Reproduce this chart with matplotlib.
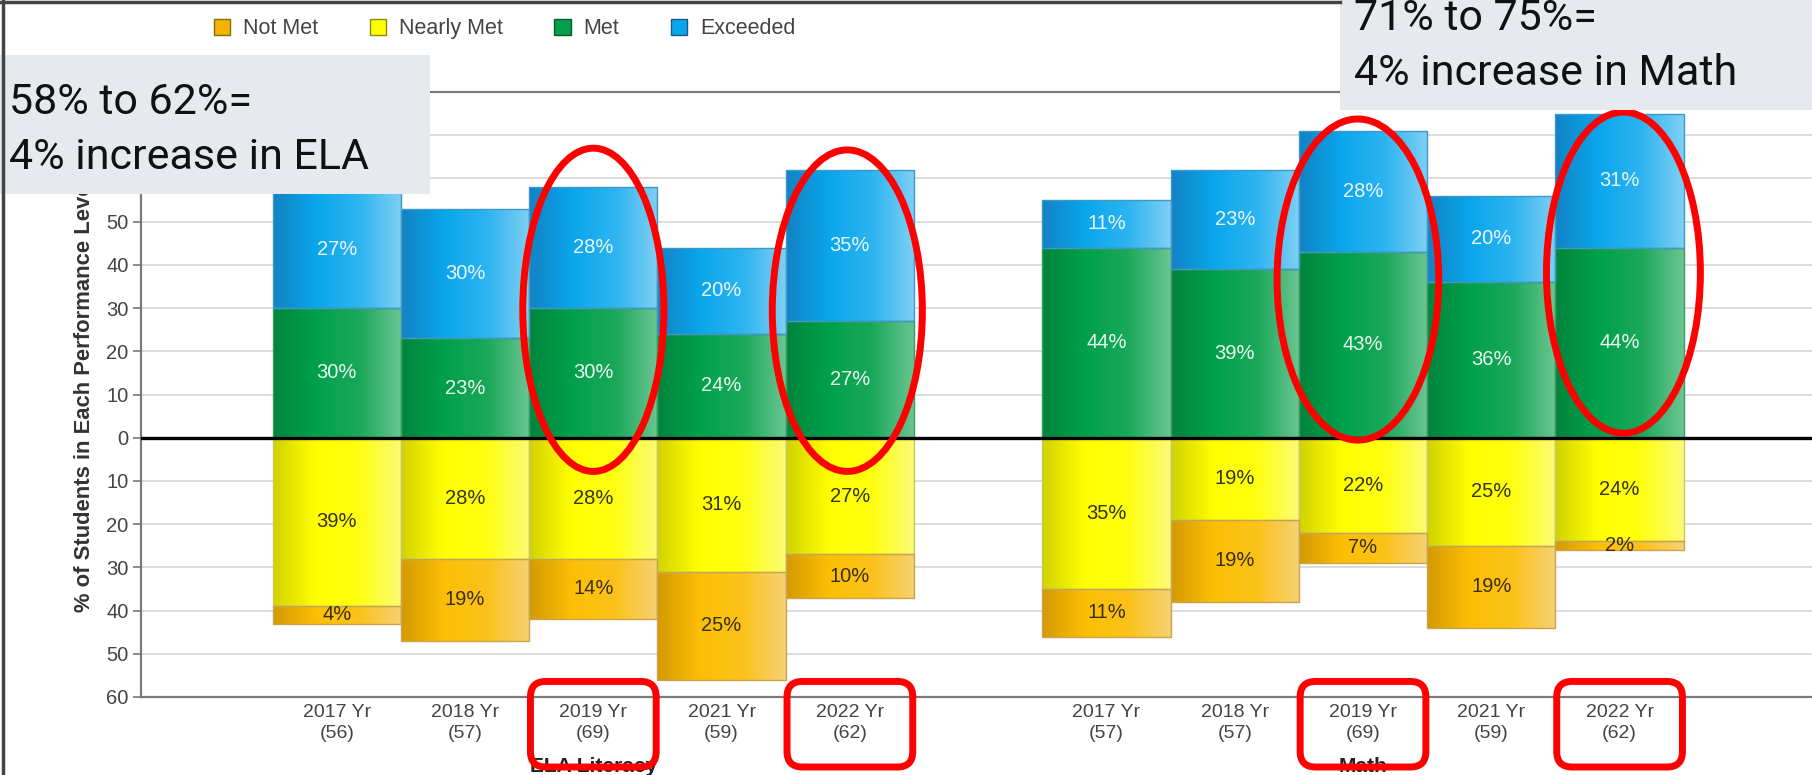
import numpy as np
import matplotlib
matplotlib.use("Agg")
import matplotlib.pyplot as plt
from matplotlib.colors import LinearSegmentedColormap
from matplotlib.patches import Patch, Ellipse, FancyBboxPatch, Rectangle
from matplotlib.lines import Line2D
import matplotlib.transforms as mtransforms

# ---- data ----
years = ["2017", "2018", "2019", "2021", "2022"]
ela_n = [56, 57, 69, 59, 62]
math_n = [57, 57, 69, 59, 62]

ela_exceeded = [27, 30, 28, 20, 35]
ela_met = [30, 23, 30, 24, 27]
ela_nearly = [39, 28, 28, 31, 27]
ela_notmet = [4, 19, 14, 25, 10]

math_exceeded = [11, 23, 28, 20, 31]
math_met = [44, 39, 43, 36, 44]
math_nearly = [35, 19, 22, 25, 24]
math_notmet = [11, 19, 7, 19, 2]

subjects = ["ELA Literacy", "Math"]
notes = ["58% to 62%=\n4% increase in ELA", "71% to 75%=\n4% increase in Math"]

plt.rcParams['font.family'] = ['Liberation Sans', 'DejaVu Sans']

fig = plt.figure(figsize=(18.12, 7.75), dpi=100)
ax = fig.add_axes([141 / 1812, 1 - 697 / 775, 1 - 141 / 1812, (697 - 92) / 775])

x_ela = np.arange(5)
x_math = np.arange(5) + 6
xs = np.concatenate([x_ela, x_math])
exceeded = np.array(ela_exceeded + math_exceeded)
met = np.array(ela_met + math_met)
nearly = np.array(ela_nearly + math_nearly)
notmet = np.array(ela_notmet + math_notmet)

# gradient colours: dark left edge, bright middle, pale right edge
cm_blue = LinearSegmentedColormap.from_list("b", ["#1282c4", "#0aa6ec", "#2db4f0", "#7fd0f4"])
cm_green = LinearSegmentedColormap.from_list("g", ["#00853c", "#00a04c", "#1aa85a", "#6cc592"])
cm_yellow = LinearSegmentedColormap.from_list("y", ["#d2d200", "#ffff00", "#ffff10", "#fbfb78"])
cm_orange = LinearSegmentedColormap.from_list("o", ["#d39a00", "#fdbf05", "#fcc21a", "#f6d274"])


def shade(bars, cmap, edge):
    grad = np.linspace(0, 1, 256).reshape(1, -1)
    for p in bars:
        x0, y0, w, h = p.get_x(), p.get_y(), p.get_width(), p.get_height()
        im = ax.imshow(grad, cmap=cmap, extent=[x0, x0 + w, y0, y0 + h], aspect='auto',
                       interpolation='bicubic', zorder=2.1)
        im.set_clip_path(p)
        ax.add_patch(Rectangle((x0, y0), w, h, fill=False, ec=edge, lw=1.0, zorder=2.2))


b_met = ax.bar(xs, met, width=1.0, color="#00a04c", zorder=2)
b_exc = ax.bar(xs, exceeded, bottom=met, width=1.0, color="#0aa6ec", zorder=2)
b_near = ax.bar(xs, -nearly, width=1.0, color="#ffff00", zorder=2)
b_not = ax.bar(xs, -notmet, bottom=-nearly, width=1.0, color="#fdbf05", zorder=2)

shade(b_met, cm_green, "#3a9a60")
shade(b_exc, cm_blue, "#3f98c8")
shade(b_near, cm_yellow, "#c8c860")
shade(b_not, cm_orange, "#c8a450")

# segment labels
fs = 14.5
for i, x in enumerate(xs):
    ax.text(x, met[i] / 2, f"{met[i]}%", ha='center', va='center', fontsize=fs, color='#eaf6ee', zorder=3)
    ax.text(x, met[i] + exceeded[i] / 2, f"{exceeded[i]}%", ha='center', va='center', fontsize=fs,
            color='#eaf6ff', zorder=3)
    ax.text(x, -nearly[i] / 2, f"{nearly[i]}%", ha='center', va='center', fontsize=fs, color='#333318', zorder=3)
    ax.text(x, -nearly[i] - notmet[i] / 2, f"{notmet[i]}%", ha='center', va='center', fontsize=fs,
            color='#3a2e10', zorder=3)

ax.axhline(0, color='black', lw=2.4, zorder=4)

ax.set_xlim(-1.526, 11.5)
ax.set_ylim(-60, 80)
yt = np.arange(-60, 81, 10)
ax.set_yticks(yt)
# labels above 50 sit under the grey callout box
ax.set_yticklabels([str(abs(v)) if v <= 50 else "" for v in yt], fontsize=14.5, color='#444444')
ax.set_xticks(xs)
ax.set_xticklabels([f"{y} Yr\n({n})" for y, n in zip(years + years, ela_n + math_n)],
                   fontsize=14, color='#444444', linespacing=1.3)
ax.tick_params(axis='x', length=0, pad=5)
ax.tick_params(axis='y', length=6, color='#777777', width=1.2, pad=3)
ax.yaxis.grid(True, color='#d9d9d9', lw=1.3)
ax.set_axisbelow(True)
for s in ['left', 'bottom', 'top']:
    ax.spines[s].set_color('#7a7a7a')
    ax.spines[s].set_linewidth(1.6)
ax.spines['right'].set_visible(False)
ax.set_ylabel("% of Students in Each Performance Level", fontsize=15.8, fontweight='bold',
              color='#333333', labelpad=8)

tr = mtransforms.blended_transform_factory(ax.transData, ax.transAxes)
ax.text(2, -0.115, subjects[0], transform=tr, ha='center', va='center', fontsize=15,
        fontweight='bold', color='#222222')
ax.text(8, -0.115, subjects[1], transform=tr, ha='center', va='center', fontsize=15,
        fontweight='bold', color='#222222')

# red highlight ellipses and boxes around 2019 and 2022
ring = [(2, -0.0, 29.6, 1.10, 74.8), (4, -0.02, 29.4, 1.17, 74.4),
        (8, -0.04, 36.6, 1.26, 74.3), (10, 0.03, 38.2, 1.20, 74.3)]
for xi, dx, yc, w, h in ring:
    ax.add_patch(Ellipse((xi + dx, yc), w, h, fill=False, ec='#ff0000', lw=5, zorder=6, clip_on=False))
for xi in [2, 4, 8, 10]:
    ax.add_patch(FancyBboxPatch((xi - 0.49, -76.2), 0.98, 19.8,
                                boxstyle="round,pad=0,rounding_size=0.12", mutation_aspect=29.7,
                                fill=False, ec='#ff0000', lw=5, zorder=6, clip_on=False))

# legend
handles = [Patch(fc="#f2b400", ec="#8a6a10", label="Not Met"),
           Patch(fc="#ffff00", ec="#8a8a10", label="Nearly Met"),
           Patch(fc="#00a04c", ec="#0a5a30", label="Met"),
           Patch(fc="#0aa6ec", ec="#1a5a80", label="Exceeded")]
fig.legend(handles=handles, loc='center', bbox_to_anchor=(0.2785, 0.963), ncol=4, frameon=False,
           fontsize=15.5, handlelength=0.75, handleheight=0.75, columnspacing=2.4, handletextpad=0.6,
           labelcolor='#444444')

# grey callout boxes
fig.add_artist(Rectangle((0, 1 - 194 / 775), 430 / 1812, 139 / 775, transform=fig.transFigure,
                         fc='#e6eaee', ec='none', zorder=10))
fig.add_artist(Rectangle((1340 / 1812, 1 - 110 / 775), 472 / 1812, 110 / 775, transform=fig.transFigure,
                         fc='#e6eaee', ec='none', zorder=10))
fig.text(9 / 1812, 1 - 169 / 775, notes[0], fontsize=31, family='Roboto', color='#111111',
         va='baseline', linespacing=1.45, zorder=11)
fig.text(1354 / 1812, 1 - 85 / 775, notes[1], fontsize=31, family='Roboto', color='#111111',
         va='baseline', linespacing=1.45, zorder=11)

# outer frame
fig.add_artist(Line2D([0.0015, 0.0015], [0, 1], transform=fig.transFigure, color='#444444', lw=2.5, zorder=12))
fig.add_artist(Line2D([0, 1340 / 1812], [0.998, 0.998], transform=fig.transFigure, color='#444444',
                      lw=2.5, zorder=12))

fig.savefig("out.png", dpi=100)
